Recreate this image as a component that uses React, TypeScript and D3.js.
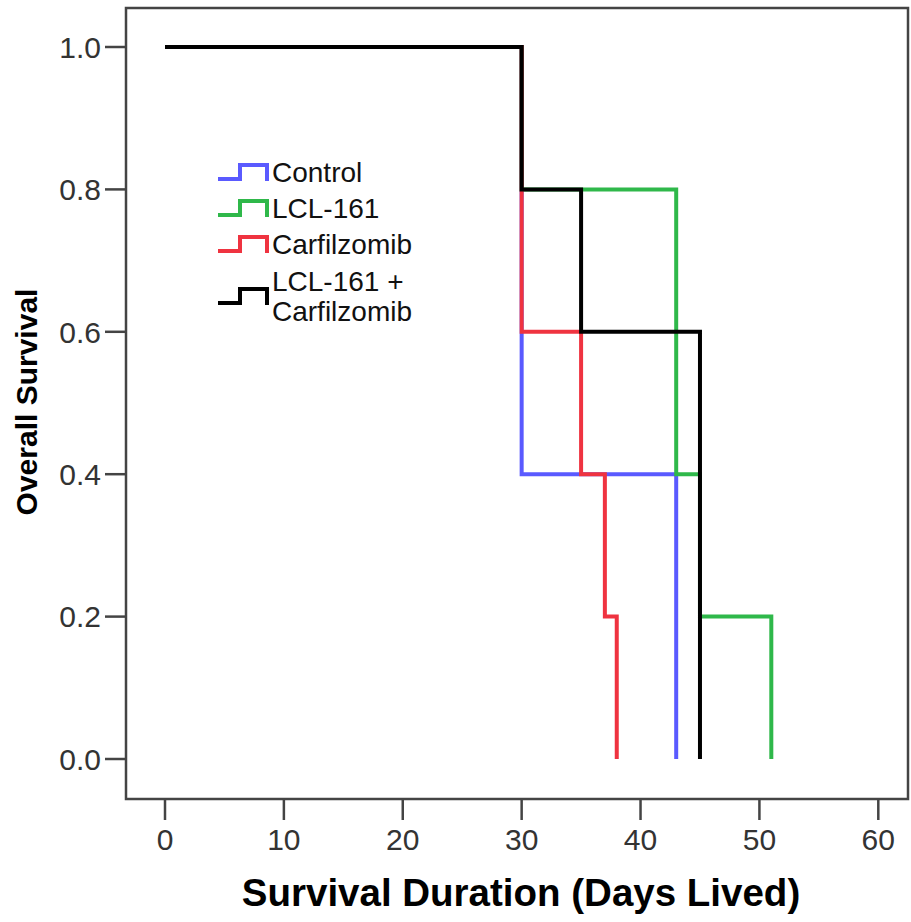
import React from "react";
import * as d3 from "d3";

const seriesNames = ["Control", "LCL-161", "Carfilzomib", "LCL-161 + Carfilzomib"];
const seriesColors = ["#5a5aff", "#2fb84a", "#ef3340", "#000000"];
// step curves: [time, survival] points where survival changes
const controlSteps: [number, number][] = [[0, 1], [30, 0.4], [43, 0]];
const lclSteps: [number, number][] = [[0, 1], [30, 0.8], [43, 0.4], [45, 0.2], [51, 0]];
const carfSteps: [number, number][] = [[0, 1], [30, 0.6], [35, 0.4], [37, 0.2], [38, 0]];
const comboSteps: [number, number][] = [[0, 1], [30, 0.8], [35, 0.6], [45, 0]];
const allSteps = [controlSteps, lclSteps, carfSteps, comboSteps];
const xTicks = [0, 10, 20, 30, 40, 50, 60];
const yTicks = [0, 0.2, 0.4, 0.6, 0.8, 1.0];

const W = 911, H = 922;
const frame = { left: 126, right: 908, top: 8, bottom: 799 };

export default function App() {
  const x = d3.scaleLinear().domain([0, 60]).range([165, 878.3]);
  const y = d3.scaleLinear().domain([0, 1]).range([759, 47]);
  const line = d3.line<[number, number]>().x(d => x(d[0])).y(d => y(d[1])).curve(d3.curveStepAfter);

  const font = "'Liberation Sans', Arial, sans-serif";
  const legendRows = [
    { lines: ["Control"], baseline: 182 },
    { lines: ["LCL-161"], baseline: 218 },
    { lines: ["Carfilzomib"], baseline: 254 },
    { lines: ["LCL-161 +", "Carfilzomib"], baseline: 291 },
  ];
  const swatch = (cy: number) => {
    const lo = cy + 7, hi = cy - 7;
    return `M218,${lo}H240V${hi}H267V${lo + 2}`;
  };

  return (
    <svg width={W} height={H} style={{ position: "absolute", left: 0, top: 0, background: "#fff" }}>
      <rect x={0} y={0} width={W} height={H} fill="#fff" />
      <rect x={frame.left} y={frame.top} width={frame.right - frame.left} height={frame.bottom - frame.top}
        fill="none" stroke="#444" strokeWidth={2.5} />
      {yTicks.map(t => (
        <g key={"y" + t}>
          <line x1={105} x2={frame.left} y1={y(t)} y2={y(t)} stroke="#444" strokeWidth={2.5} />
          <text x={101} y={y(t)} dy="0.36em" textAnchor="end" fontFamily={font} fontSize={30} fill="#333">
            {t.toFixed(1)}
          </text>
        </g>
      ))}
      {xTicks.map(t => (
        <g key={"x" + t}>
          <line x1={x(t)} x2={x(t)} y1={frame.bottom} y2={820} stroke="#444" strokeWidth={2.5} />
          <text x={x(t)} y={850} textAnchor="middle" fontFamily={font} fontSize={30} fill="#333">
            {t}
          </text>
        </g>
      ))}
      <text x={521} y={906} textAnchor="middle" fontFamily={font} fontWeight="bold" fontSize={38.5} fill="#000">
        Survival Duration (Days Lived)
      </text>
      <text transform="translate(37,402) rotate(-90)" textAnchor="middle" fontFamily={font} fontWeight="bold" fontSize={30} fill="#000">
        Overall Survival
      </text>
      {allSteps.map((s, i) => (
        <path key={"c" + i} d={line(s) as string} fill="none" stroke={seriesColors[i]} strokeWidth={4} strokeLinejoin="miter" strokeLinecap="butt" />
      ))}
      {legendRows.map((r, i) => {
        const cy = r.lines.length === 1 ? r.baseline - 10 : r.baseline + 5;
        return (
          <g key={"l" + i}>
            <path d={swatch(cy)} fill="none" stroke={seriesColors[i]} strokeWidth={4} />
            {r.lines.map((ln, j) => (
              <text key={j} x={272} y={r.baseline + j * 30} fontFamily={font} fontSize={28} fill="#111">
                {ln}
              </text>
            ))}
          </g>
        );
      })}
    </svg>
  );
}
